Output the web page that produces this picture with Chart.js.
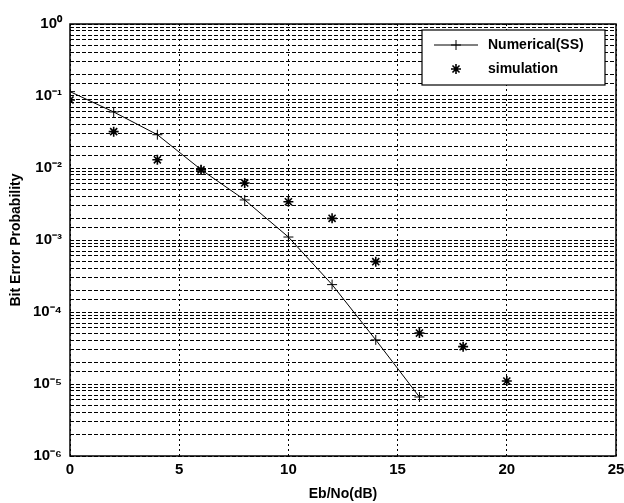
<!DOCTYPE html>
<html>
<head>
<meta charset="utf-8">
<script src="https://cdn.jsdelivr.net/npm/chart.js@4"></script>
<style>
    html, body { margin: 0; padding: 0; background: #ffffff; }
    #wrap { width: 624px; height: 503px; }
</style>
</head>
<body>
<div id="wrap"><canvas id="berChart" width="624" height="503"></canvas></div>
<script>
// Eb/No (dB) sample points
const ebnoNumerical = [0, 2, 4, 6, 8, 10, 12, 14, 16];
const numericalSS = [0.115, 0.06, 0.029, 0.0095, 0.0036, 0.0011, 2.4e-4, 4.1e-5, 6.6e-6];

const ebnoSimulation = [0, 2, 4, 6, 8, 10, 12, 14, 16, 18, 20];
const simulation = [0.088, 0.032, 0.013, 0.0094, 0.0062, 0.0034, 0.002, 5e-4, 5.1e-5, 3.3e-5, 1.1e-5];

const xTicks = [0, 5, 10, 15, 20, 25];
const seriesLabels = ['Numerical(SS)', 'simulation'];

const supers = { '0': '\u2070', '1': '\u00B9', '2': '\u00B2', '3': '\u00B3', '4': '\u2074',
                 '5': '\u2075', '6': '\u2076', '-': '\u207B' };
const toSuper = s => String(s).split('').map(c => supers[c] || c).join('');

const FONT = "'Liberation Sans', Arial, sans-serif";

// frame round the plot area (MATLAB box) plus the in-plot legend
const boxAndLegend = {
    id: 'boxAndLegend',
    afterDraw(chart) {
        const { ctx, chartArea: a } = chart;
        ctx.save();
        ctx.strokeStyle = '#000';
        ctx.lineWidth = 1.5;
        ctx.setLineDash([]);
        ctx.strokeRect(a.left, a.top, a.right - a.left, a.bottom - a.top);

        // legend
        const lx = 422, ly = 30, lw = 183, lh = 55;
        ctx.fillStyle = '#fff';
        ctx.fillRect(lx, ly, lw, lh);
        ctx.lineWidth = 1.2;
        ctx.strokeRect(lx, ly, lw, lh);

        ctx.font = 'bold 14px ' + FONT;
        ctx.textBaseline = 'middle';
        ctx.textAlign = 'left';
        const rows = [ly + 15, ly + 39];
        chart.data.datasets.forEach((ds, i) => {
            const y = rows[i];
            ctx.strokeStyle = '#000';
            ctx.fillStyle = '#000';
            if (ds.showLine !== false) {
                ctx.lineWidth = 1;
                ctx.beginPath();
                ctx.moveTo(lx + 12, y);
                ctx.lineTo(lx + 56, y);
                ctx.stroke();
            }
            ctx.lineWidth = ds.pointBorderWidth;
            Chart.helpers.drawPoint(ctx, {
                pointStyle: ds.pointStyle,
                radius: ds.pointRadius,
                borderWidth: ds.pointBorderWidth,
                rotation: 0
            }, lx + 34, y);
            ctx.fillStyle = '#000';
            ctx.fillText(ds.label, lx + 66, y);
        });
        ctx.restore();
    }
};

const ctx = document.getElementById('berChart');

new Chart(ctx, {
    type: 'line',
    data: {
        datasets: [
            {
                label: seriesLabels[0],
                data: ebnoNumerical.map((x, i) => ({ x: x, y: numericalSS[i] })),
                borderColor: '#000',
                backgroundColor: '#000',
                borderWidth: 1,
                pointStyle: 'cross',
                pointRadius: 5,
                pointBorderWidth: 1,
                tension: 0
            },
            {
                label: seriesLabels[1],
                data: ebnoSimulation.map((x, i) => ({ x: x, y: simulation[i] })),
                borderColor: '#000',
                backgroundColor: '#000',
                showLine: false,
                pointStyle: 'star',
                pointRadius: 5,
                pointBorderWidth: 1.6
            }
        ]
    },
    options: {
        responsive: false,
        animation: false,
        layout: { padding: { top: 24, right: 8, left: 0, bottom: 0 } },
        plugins: {
            legend: { display: false },
            tooltip: { enabled: false }
        },
        scales: {
            x: {
                type: 'linear',
                min: 0,
                max: 25,
                afterBuildTicks: scale => { scale.ticks = xTicks.map(v => ({ value: v })); },
                afterFit: scale => { scale.height = 47; scale.paddingRight = 0; },
                grid: { color: '#000', lineWidth: 1, drawTicks: false },
                border: { display: false, dash: [2, 3] },
                ticks: {
                    color: '#000',
                    padding: 5,
                    maxRotation: 0,
                    font: { family: FONT, size: 15, weight: 'bold' }
                },
                title: {
                    display: true,
                    text: 'Eb/No(dB)',
                    color: '#000',
                    padding: { top: 0, bottom: 0 },
                    font: { family: FONT, size: 14, weight: 'bold' }
                }
            },
            y: {
                type: 'logarithmic',
                min: 1e-6,
                max: 1,
                afterFit: scale => { scale.width = 70; },
                grid: { color: '#000', lineWidth: 1, drawTicks: false },
                border: { display: false, dash: [4, 2] },
                ticks: {
                    color: '#000',
                    padding: 8,
                    autoSkip: false,
                    font: { family: FONT, size: 15, weight: 'bold' },
                    callback: value => {
                        const p = Math.log10(value);
                        if (Math.abs(p - Math.round(p)) > 1e-6) return '';
                        return '10' + toSuper(Math.round(p));
                    }
                },
                title: {
                    display: true,
                    text: 'Bit Error Probability',
                    color: '#000',
                    padding: { top: 8, bottom: 2 },
                    font: { family: FONT, size: 14, weight: 'bold' }
                }
            }
        }
    },
    plugins: [boxAndLegend]
});
</script>
</body>
</html>
